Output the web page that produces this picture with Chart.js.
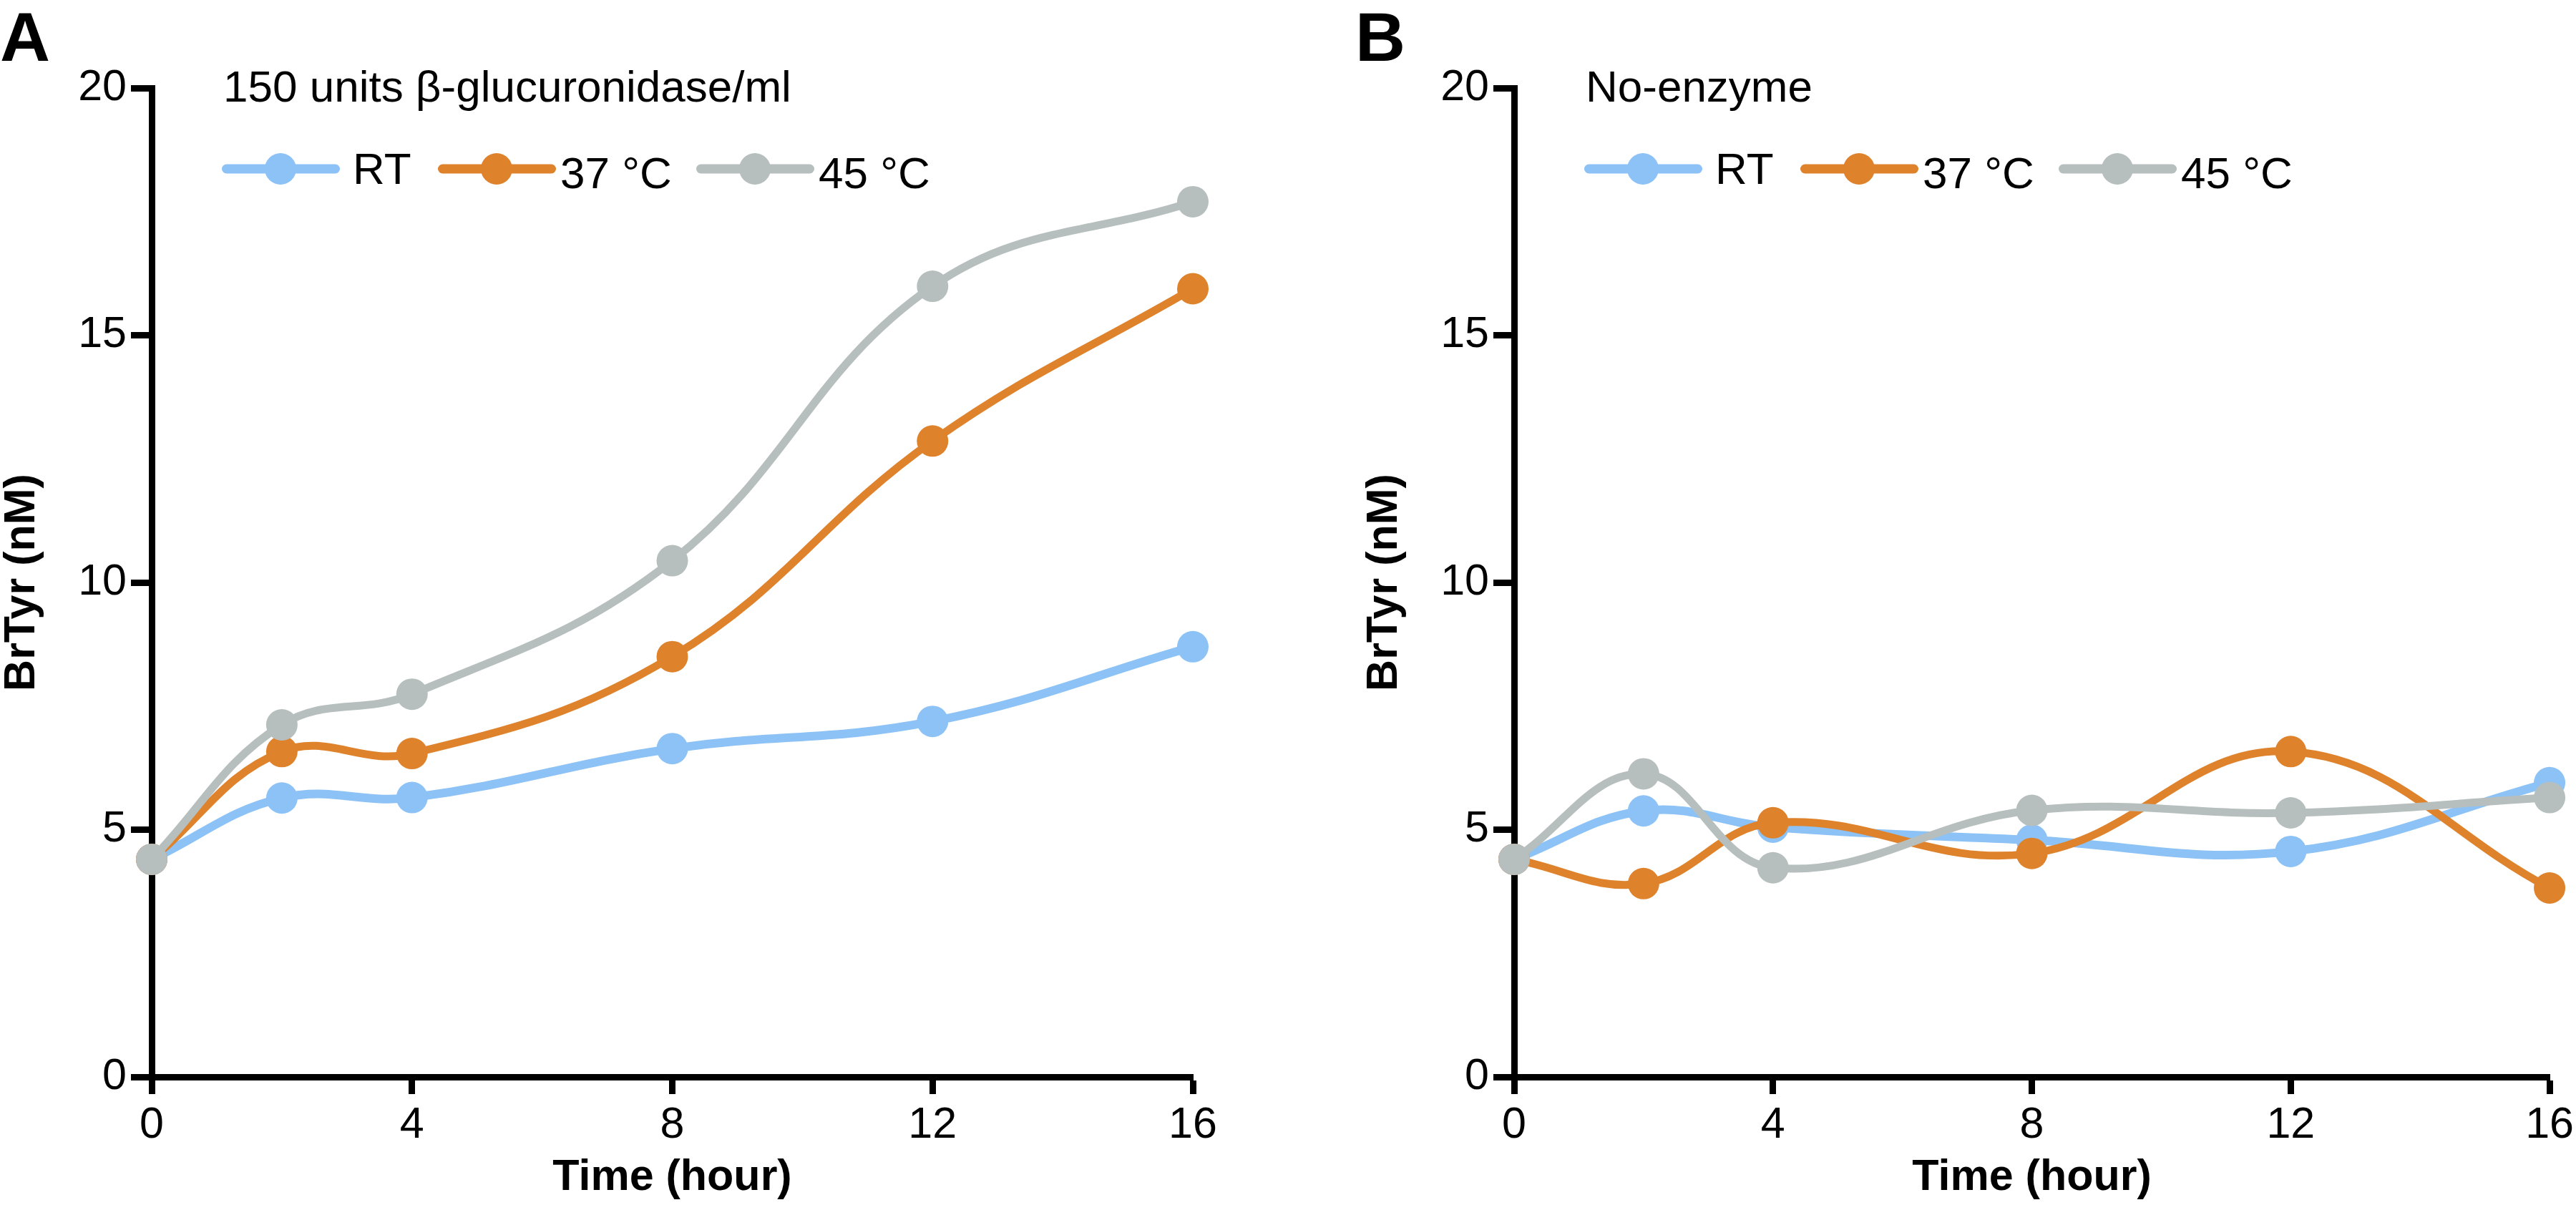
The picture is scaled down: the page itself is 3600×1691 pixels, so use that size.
<!DOCTYPE html>
<html>
<head>
<meta charset="utf-8">
<script src="https://cdn.jsdelivr.net/npm/chart.js@4.4.1/dist/chart.umd.min.js"></script>
<style>
  html, body { margin: 0; padding: 0; background: #fff; }
  #wrap { position: relative; width: 3600px; height: 1691px; overflow: hidden; }
  .panel { position: absolute; top: 0; width: 1800px; height: 1691px; }
</style>
</head>
<body>
<div id="wrap">
  <div class="panel" style="left:0"><canvas id="chartA" width="1800" height="1691"></canvas></div>
  <div class="panel" style="left:1805px"><canvas id="chartB" width="1800" height="1691"></canvas></div>
</div>
<script>
// time points (hours)
const hours = [0, 2, 4, 8, 12, 16];
const xTicks = [0, 4, 8, 12, 16];
const yTicks = [0, 5, 10, 15, 20];

const seriesNames = ['RT', '37 °C', '45 °C'];
const seriesColors = ['#8cc2f6', '#df822c', '#b6bfbe'];

// panel A: 150 units beta-glucuronidase/ml
const enzymeRT = [4.4, 5.64, 5.65, 6.64, 7.19, 8.70];
const enzyme37 = [4.4, 6.58, 6.54, 8.50, 12.86, 15.94];
const enzyme45 = [4.4, 7.12, 7.74, 10.44, 15.99, 17.70];

// panel B: no enzyme
const noEnzymeRT = [4.4, 5.38, 5.05, 4.79, 4.56, 5.95];
const noEnzyme37 = [4.4, 3.91, 5.14, 4.52, 6.58, 3.82];
const noEnzyme45 = [4.4, 6.13, 4.23, 5.39, 5.34, 5.65];

const family = "'Liberation Sans', Arial, Helvetica, sans-serif";
const lineWidths = [12, 11, 11];

// letter, title and the line+dot legend drawn inside the plot
const panelDecor = {
  id: 'panelDecor',
  afterDraw(chart, args, opts) {
    const { ctx, chartArea } = chart;
    ctx.save();
    ctx.fillStyle = '#000';
    ctx.textBaseline = 'alphabetic';
    ctx.textAlign = 'left';
    ctx.font = `bold 97px ${family}`;
    ctx.fillText(opts.letter, opts.letterX, 85);
    ctx.font = `62px ${family}`;
    ctx.fillText(opts.title, chartArea.left + 100, 142);

    const offsets = [98, 400, 761];
    const yMid = 236;
    chart.data.datasets.forEach((ds, i) => {
      const x0 = chartArea.left + offsets[i];
      ctx.strokeStyle = ds.borderColor;
      ctx.lineWidth = 13;
      ctx.lineCap = 'round';
      ctx.beginPath();
      ctx.moveTo(x0 + 6.5, yMid);
      ctx.lineTo(x0 + 158.5, yMid);
      ctx.stroke();
      ctx.fillStyle = ds.borderColor;
      ctx.beginPath();
      ctx.arc(x0 + 82, yMid, 22, 0, Math.PI * 2);
      ctx.fill();
      ctx.fillStyle = '#000';
      ctx.font = `62px ${family}`;
      if (i === 0) ctx.fillText(ds.label, x0 + 183, 257);
      else ctx.fillText(ds.label, x0 + 171, 263);
    });
    ctx.restore();
  }
};

function makeDatasets(rows) {
  return rows.map((vals, i) => ({
    label: seriesNames[i],
    data: hours.map((h, j) => ({ x: h, y: vals[j] })),
    borderColor: seriesColors[i],
    backgroundColor: seriesColors[i],
    pointBackgroundColor: seriesColors[i],
    pointBorderWidth: 0,
    pointRadius: 22,
    borderWidth: lineWidths[i],
    tension: 0.4,
    clip: false,
    order: 3 - i
  }));
}

function makeChart(id, rows, letter, letterX, title, padding) {
  const tickFont = { family, size: 61 };
  const titleFont = { family, size: 61, weight: 'bold', lineHeight: 1 };
  return new Chart(document.getElementById(id), {
    type: 'line',
    data: { datasets: makeDatasets(rows) },
    plugins: [panelDecor],
    options: {
      responsive: false,
      animation: false,
      layout: { padding },
      plugins: {
        legend: { display: false },
        tooltip: { enabled: false },
        panelDecor: { letter, letterX, title }
      },
      scales: {
        x: {
          type: 'linear',
          min: 0,
          max: 16,
          afterBuildTicks: s => { s.ticks = xTicks.map(v => ({ value: v })); },
          afterFit: s => { s.height = 186; },
          ticks: { font: tickFont, color: '#000', padding: 8, maxRotation: 0 },
          grid: { drawOnChartArea: false, tickLength: 24, tickWidth: 9, tickColor: '#000' },
          border: { color: '#000', width: 9 },
          title: { display: true, text: 'Time (hour)', font: titleFont, color: '#000', padding: { top: 0, bottom: 14 } }
        },
        y: {
          min: 0,
          max: 20,
          afterBuildTicks: s => { s.ticks = yTicks.map(v => ({ value: v })); },
          afterFit: s => { s.width = 212; },
          ticks: { font: tickFont, color: '#000', padding: 6 },
          grid: { drawOnChartArea: false, tickLength: 29, tickWidth: 9, tickColor: '#000' },
          border: { color: '#000', width: 9 },
          title: { display: true, text: 'BrTyr (nM)', font: titleFont, color: '#000', padding: { top: 1, bottom: 0 } }
        }
      }
    }
  });
}

makeChart('chartA', [enzymeRT, enzyme37, enzyme45], 'A', 0, '150 units β-glucuronidase/ml',
  { left: 0, right: 133, top: 123, bottom: 0 });
makeChart('chartB', [noEnzymeRT, noEnzyme37, noEnzyme45], 'B', 89, 'No-enzyme',
  { left: 99, right: 30, top: 123, bottom: 0 });
</script>
</body>
</html>
